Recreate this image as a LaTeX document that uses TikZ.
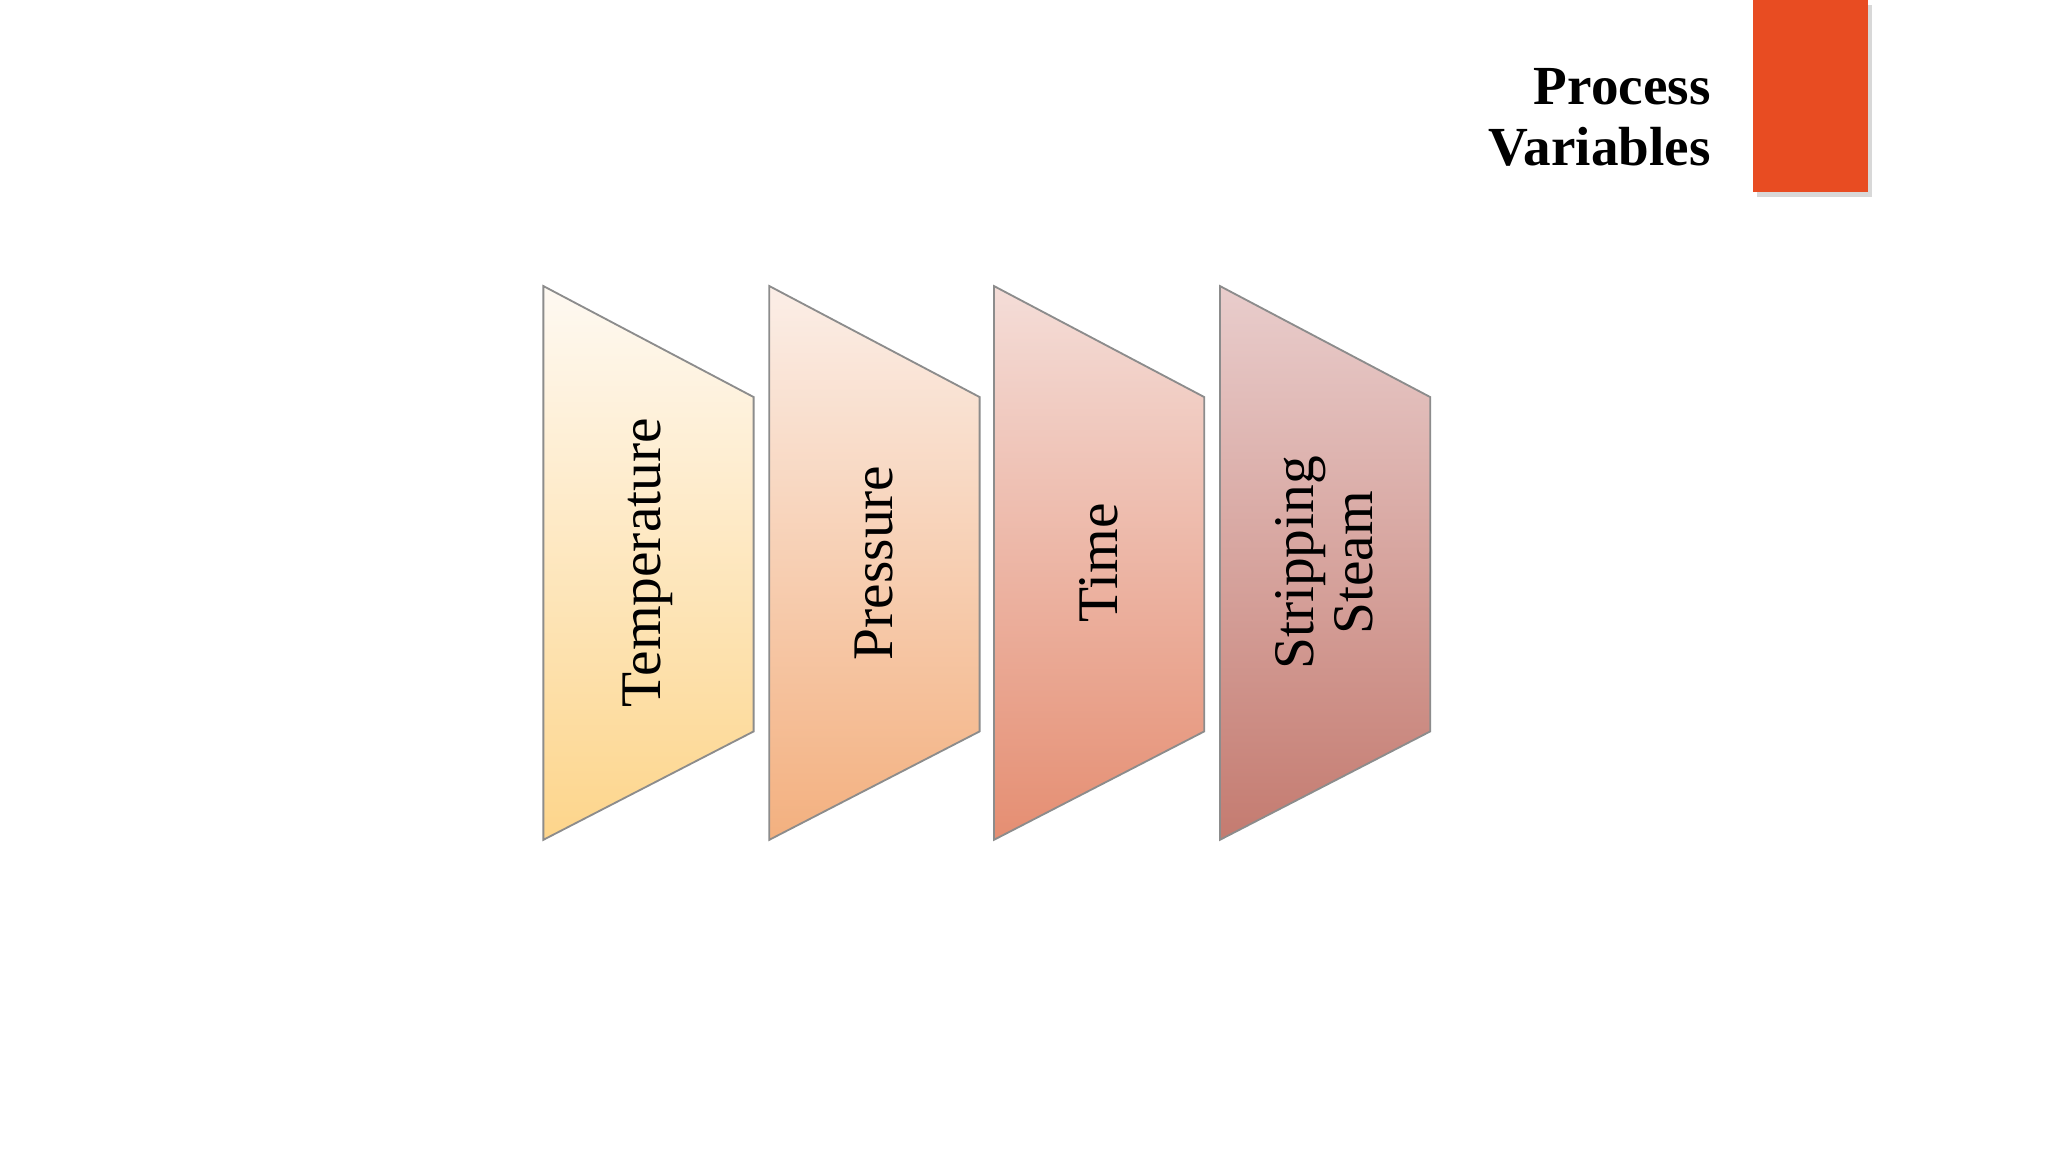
\documentclass[tikz,border=0pt]{standalone}
\usepackage{fontspec}
\setmainfont{Liberation Serif}
\usetikzlibrary{shadows}
\definecolor{bar}{HTML}{E84C22}
\tikzset{trap/.style={draw=black!45, line width=0.4pt},
  lab/.style={rotate=90, align=center, font=\fontsize{12.5}{13}\selectfont, text=black}}
\begin{document}
\begin{tikzpicture}[x=0.01cm,y=-0.01cm]
\useasboundingbox (0,0) rectangle (1568,882);
\fill[white] (0,0) rectangle (1568,882);
\fill[bar, drop shadow={opacity=0.3,shadow xshift=1pt,shadow yshift=-1pt}] (1342,0) rectangle (1430,147);
\node[anchor=east, align=right, font=\bfseries\fontsize{12}{13.4}\selectfont] (title) at (1322,90) {Process\\Variables};
\foreach \x/\ct/\cb/\n/\t in {416/FEF9F2/FDD58B/a/Temperature,589/FBEEE7/F3B07F/b/Pressure,761/F4DDD8/E58E72/c/Time,934/E9CDCC/C47B70/d/{Stripping\\Steam}}{
  \definecolor{ct}{HTML}{\ct}\definecolor{cb}{HTML}{\cb}
  \shade[top color=ct, bottom color=cb] (\x,219) -- (\x+161,304) -- (\x+161,560) -- (\x,643) -- cycle;
  \draw[trap] (\x,219) -- (\x+161,304) -- (\x+161,560) -- (\x,643) -- cycle;
  \node[lab] (\n) at (\x+80,431) {\t};
}
\end{tikzpicture}
\end{document}
